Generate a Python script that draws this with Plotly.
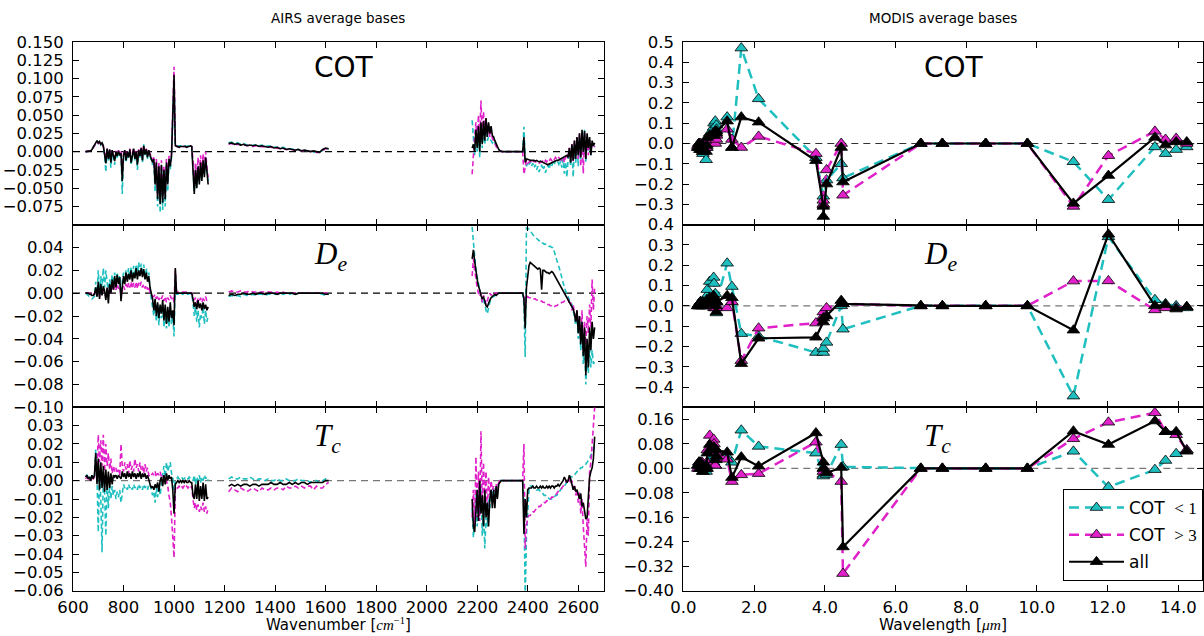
import plotly.graph_objects as go

W, H = 1204, 636

# ---------------- AIRS spectra (values in units of 1e-3) ----------------
wn_a = list(range(650, 1140, 5))
wn_b = list(range(1216, 1613, 12))
wn_c = list(range(2180, 2670, 5))

cot_all_a = [0,0,0,0,1,3,6,10, 13,15,12,14,10,12,8, -3,-16,4,-10,3,-15,2,-8,-13,0,-6,1,-5,-2,
             -40,-5,2,-12,0,-8,3,-15,-2,4,-10,0,-18,2,-6,5,-12,8,-4,3,-8,2, -5,-10,-15,
             -10,-45,-15,-65,-20,-72,-18,-70,-25,-65,-15,-45,-10,-20,-5, 40,105,8,
             7,7,6,7,7,8,7,7,6,7,7,8,7, -20,-58,-25,-50,-20,-45,-15,-40,-12,-35,-8,-30,-45]
cot_cyan_a = [0,0,0,0,1,3,6,9, 12,14,11,13,9,11,6, -5,-28,3,-12,2,-22,0,-10,-18,-2,-8,0,-7,-3,
              -58,-8,0,-15,-2,-10,2,-18,-4,3,-12,-2,-25,0,-8,4,-15,10,-6,2,-10,0, -6,-12,-18,
              -12,-55,-18,-75,-22,-84,-20,-80,-28,-75,-18,-55,-12,-25,-8, 35,95,8,
              8,8,7,8,8,9,8,8,7,8,8,9,8, -22,-55,-25,-48,-22,-42,-18,-38,-14,-32,-10,-28,-40]
cot_pink_a = [0,0,0,0,1,3,5,8, 12,13,11,12,9,10,7, -2,-10,4,-6,3,-10,2,-5,-9,1,-4,2,-3,0,
              -30,-3,3,-8,1,-5,4,-10,0,5,-7,2,-12,3,-4,6,-8,8,-2,4,-5,3, -3,-7,-10,
              -8,-40,-10,-60,-15,-66,-12,-62,-20,-58,-10,-40,-6,-15,-3, 45,116,12,
              7,7,6,7,7,8,7,7,6,7,7,8,7, -12,-45,-15,-40,-8,-35,-5,-30,-3,-25,0,-22,-35]
cot_all_b = [11,12,10,11,9,10,8,9,8,9,7,8,7,6,7,5,6,4,5,3,4,3,2,3,1,2,1,0,1,0,-1,3,5,4]
cot_cyan_b = [12,13,11,12,10,11,9,10,8,10,8,9,7,7,8,6,6,5,6,4,4,3,3,3,1,2,1,0,0,-1,-1,2,4,3]
cot_pink_b = [10,11,9,10,9,9,8,8,7,8,7,7,6,6,6,5,5,4,4,3,3,2,2,2,1,1,0,0,0,-1,-1,2,4,3]
cot_all_c = [5,10, 0,30,5,35,0,40,10,42,15,46,20,40,25,35,22, 20,15,10,6,3,1,0,
             0,0,0,0,0,0,0,0,0,0,0,0,0,0,0,0, 0,20,-15,-10,
             -10,-11,-12,-12,-11,-12,-13,-12,-13,-14,-13,-14,-15,-15,-16,-17,-18,-17,-16,-15,
             -14,-13,-13,-12,-12,-11,-10,-9,-8,-7,-6,-5,
             -8,5,-15,10,-12,15,-10,20,-5,25,-8,30,0,28,-10,25,5,20,-5,15,8,12]
cot_cyan_c = [43,20, -5,25,0,30,-8,35,5,38,10,30,15,20,18,15,12, 15,12,8,5,3,1,0,
              0,0,0,0,0,0,0,0,0,0,0,0,0,0,0,0, 0,34,-10,-20,
              -15,-18,-14,-20,-16,-22,-18,-25,-20,-28,-22,-18,-25,-20,-29,-22,-18,-24,-16,-20,
              -14,-18,-12,-16,-14,-20,-12,-22,-10,-30,-14,-35,
              -10,0,-20,5,-35,10,-15,15,-20,20,-10,25,-5,30,-15,20,0,15,-5,10,5,8]
cot_pink_c = [-31,0, 20,40,10,50,15,70,20,55,25,45,25,35,20,28,18, 15,10,7,4,2,1,0,
              0,0,0,0,0,0,0,0,0,0,0,0,0,0,0,0, 0,-31,-20,-12,
              -16,-14,-13,-15,-12,-14,-13,-15,-14,-16,-15,-14,-13,-15,-12,-14,-11,-13,-10,-12,
              -9,-11,-8,-10,-7,-9,-10,-12,-8,-15,-6,-10,
              -5,5,-10,10,-15,15,-5,20,-10,25,-20,20,-30,25,-10,20,-5,15,0,10,5,8]

de_all_a = [0,0,0,-1,-1,-2,-2,-1, 5,-3,10,-5,8,-2,6, 2,-6,5,-9,8,0,12,3,15,5,16,8,14,-7,
            5,15,8,18,10,17,12,20,10,18,13,22,12,20,15,22,14,21,12,18,10,15, 5,0,-5,
            -15,-5,-20,-8,-22,-10,-18,-6,-24,-10,-27,-12,-25,-8,-22, -15,-28,22,
            0,0,0,0,0,0,0,0,0,0,0,0,0, -5,-12,-8,-14,-6,-13,-9,-15,-8,-14,-10,-15,-12]
de_cyan_a = [0,-1,-2,-3,-4,-5,-4,-3, 10,-3,20,-2,15,5,22, 5,20,8,0,12,5,16,8,18,10,17,12,16,-3,
             10,18,12,20,14,22,15,23,14,24,16,25,15,27,18,26,16,25,14,22,12,18, 3,-5,-10,
             -20,-8,-25,-10,-28,-12,-22,-10,-30,-15,-31,-18,-30,-12,-28, -20,-38,15,
             -1,-1,0,-1,0,-1,0,-1,0,-1,0,-1,-1, -8,-20,-12,-25,-15,-30,-18,-22,-12,-27,-15,-25,-20]
de_pink_a = [0,0,0,0,0,-1,-1,0, 2,-2,5,-3,4,0,3, 0,-3,2,-2,5,0,6,2,7,3,8,4,6,-2,
             2,6,3,8,4,9,5,10,4,9,5,10,4,9,6,10,5,8,4,7,3,6, 0,-2,-3,
             -3,-1,-5,-2,-6,-3,-5,-2,-7,-3,-8,-4,-6,-2,-5, -3,-8,20,
             1,1,1,1,1,1,1,1,1,1,1,0,0, -3,-6,-4,-8,-5,-7,-4,-8,-5,-6,-3,-7,-5]
de_all_b = [-2,-1,-2,-1,-1,0,-1,-1,0,-1,0,0,-1,0,0,0,-1,0,0,0,0,0,-1,0,0,0,0,0,0,0,0,0,-1,-1]
de_cyan_b = [-3,-2,-3,-2,-3,-1,-2,-2,-1,-2,-1,-1,-2,-1,-1,-1,-1,0,-1,0,-1,0,-1,0,0,0,0,0,0,0,0,-1,-2,-1]
de_pink_b = [1,2,1,1,2,1,1,2,1,1,1,1,1,1,1,0,1,0,1,0,0,0,0,0,0,0,0,0,0,0,0,0,0,0]
de_all_c = [30,38, 28,18,12,6,3,-2,-5,-3,-8,-11,-12,-8,-6,-4,-3, -2,-1,-2,-1,0,0,0,
            0,0,0,0,0,0,0,0,0,0,0,0,0,0,0,0, 0,-5,-31,5,
            15,24,27,26,25,24,23,22,21,22,21,3,20,20,19,18,18,17,18,19,18,16,14,12,10,8,5,3,1,-1,-3,-4,
            -6,-8,-10,-12,-14,-18,-25,-15,-35,-20,-45,-25,-55,-30,-72,-40,-65,-30,-50,-25,-40,-30]
de_cyan_c = [58,45, 32,20,14,8,4,-2,-8,-5,-12,-15,-18,-12,-8,-5,-3, -3,-2,-1,-1,0,0,0,
             0,0,0,0,0,0,0,0,0,0,0,0,0,0,0,0, 0,-10,-56,57,
             57,56,55,53,51,50,49,48,47,46,46,44,44,43,43,42,42,41,41,40,40,37,33,29,26,22,18,13,9,5,2,0,
             -3,-6,-8,-10,-15,-20,-28,-18,-40,-25,-50,-30,-62,-40,-80,-55,-70,-45,-65,-50,-62,-60]
de_pink_c = [15,30, 20,10,5,0,-3,0,-8,-2,-5,-10,-5,-3,0,-2,0, -1,0,0,0,0,0,0,
             0,0,0,0,0,0,0,0,0,0,0,0,0,0,0,0, 0,-3,-10,-5,
             -3,-4,-4,-5,-5,-5,-5,-6,-6,-6,-7,-7,-8,-8,-9,-9,-10,-10,-11,-11,-12,-12,-11,-11,-10,-10,-9,-8,-8,-7,-6,-5,
             -5,-10,-8,-15,-10,-20,-25,-15,-30,-20,-40,-15,-50,-25,-45,-20,-35,-10,-30,12,-15,5]

tc_all_a = [2,3,1,2,0,3,1,3, 15,-2,12,-5,10,-4,8, -6,6,-5,5,-4,4,-2,3,2,3,1,3,2,1,
            5,2,4,1,5,2,4,1,5,2,4,1,4,2,5,1,4,2,4,1,3,0, -2,-4,-3,
            -5,-2,-4,-1,-6,0,2,-3,3,-2,4,0,3,1,2, -5,-18,-2,
            -1,0,-1,0,-1,0,-1,0,-1,-1,0,-1,-1, -8,-10,-2,-10,0,-11,-3,-10,-1,-11,-2,-10,-9]
tc_cyan_a = [2,3,2,3,1,3,2,3, 17,2,-28,5,-10,-39,3, -5,-30,0,-15,-2,-10,-3,-8,-5,-10,-6,-9,-5,-12,
             -5,-2,-4,-3,-5,-2,-4,-3,-5,-2,-4,-3,-5,-2,-4,-3,-5,-2,-4,-3,-5,-2, -2,-5,-8,
             -6,-12,-4,-9,-3,-8,-2,3,8,2,10,5,8,10,4, 2,-5,0,
             1,2,1,1,2,1,1,2,1,1,2,1,1, 0,3,-2,2,0,3,-1,2,0,3,1,2,0]
tc_pink_a = [1,2,1,2,0,2,1,2, 10,5,25,10,22,8,25, 5,20,8,15,6,12,4,8,5,7,4,6,3,20,
             8,5,10,6,9,4,11,6,8,5,12,7,9,5,10,6,8,4,9,5,7,3, 2,3,4,
             3,5,2,4,3,5,2,3,1,2,0,-3,-8,-12,-20, -30,-42,-5,
             -3,-4,-3,-4,-3,-4,-3,-4,-3,-4,-3,-4,-3, -10,-15,-12,-16,-13,-17,-14,-16,-12,-17,-14,-18,-15]
tc_all_b = [-3,-2,-3,-2,-3,-2,-2,-3,-2,-2,-3,-2,-2,-2,-1,-2,-2,-1,-2,-2,-1,-2,-1,-2,-1,-1,-2,-1,-1,-1,-1,-1,0,0]
tc_cyan_b = [1,2,1,1,2,1,1,2,1,0,1,1,0,1,0,0,1,0,0,1,0,0,0,1,0,0,0,-1,0,0,-1,0,1,0]
tc_pink_b = [-6,-4,-5,-6,-4,-5,-6,-5,-4,-5,-6,-4,-5,-5,-4,-5,-4,-4,-5,-3,-4,-4,-3,-4,-3,-4,-3,-3,-5,-3,-4,-4,-2,-1]
tc_all_c = [-10,-25, -28,-15,-5,-22,0,-18,-8,-25,-5,-20,-12,-25,-10,-5,-15, -5,-15,-3,-10,-2,-1,0,
            0,0,0,0,0,0,0,0,0,0,0,0,0,0,0,0, 0,-29,-10,-20,
            -5,-4,-4,-4,-3,-4,-4,-3,-4,-4,-3,-4,-3,-4,-4,-3,-4,-3,-4,-3,-3,-4,-3,-3,-2,-3,-2,-1,0,2,0,-1,
            0,3,1,-2,-5,-3,-6,-5,-8,-10,-7,-14,-12,-16,-21,-20,-8,2,5,7,12,24]
tc_cyan_c = [-15,-31, -20,-5,-25,-10,-18,-2,-30,-12,-37,-20,-25,-10,-15,-5,-8, -4,-12,-3,-8,-1,0,0,
             0,0,0,0,0,0,0,0,0,0,0,0,0,0,0,0, 0,-10,-65,-30,
             -15,-5,-3,-3,-3,-4,-4,-5,-5,-5,-6,-6,-7,-8,-8,-9,-9,-10,-10,-10,-10,-9,-8,-8,-7,-6,-5,-4,-4,-3,-2,-1,
             0,1,2,2,3,3,4,5,5,6,7,7,8,8,9,10,11,12,14,15,17,20]
tc_pink_c = [-20,-5, -25,13,-20,5,-22,27,-15,10,-10,5,-18,2,-8,0,-5, -3,-6,-2,-4,-1,0,0,
             0,0,0,0,0,0,0,0,0,0,0,0,0,0,0,0, 0,20,-37,-25,
             -20,-19,-19,-18,-17,-17,-16,-15,-15,-14,-14,-13,-13,-12,-12,-11,-11,-10,-10,-9,-9,-8,-8,-7,-6,-5,-5,-4,-3,-2,-1,0,
             0,2,-2,0,-4,-2,-8,-5,-12,-6,-18,-10,-25,-35,-47,-20,-30,5,10,20,30,40]

# ---------------- MODIS bands ----------------
wl = [0.412, 0.443, 0.469, 0.488, 0.531, 0.551, 0.555, 0.645, 0.667, 0.678, 0.748, 0.858,
      0.869, 0.905, 0.936, 0.940, 1.240, 1.375, 1.640, 2.130, 3.750, 3.959, 3.959, 4.050,
      4.465, 4.515, 6.715, 7.325, 8.550, 9.730, 11.030, 12.020, 13.335, 13.635, 13.935, 14.235]

cot_m_all = [-0.02, 0.00, -0.01, -0.03, -0.005, -0.03, -0.04, -0.04, -0.01, 0.03, 0.04, 0.05,
             0.04, 0.06, 0.05, 0.06, 0.11, -0.02, 0.13, 0.105, -0.085, -0.31, -0.36, -0.20,
             -0.02, -0.19, 0.0, 0.0, 0.0, 0.0, -0.295, -0.158, 0.03, -0.008, 0.008, 0.008]
cot_m_cyan = [-0.02, -0.01, -0.03, -0.02, -0.03, -0.04, -0.05, -0.08, -0.02, 0.02, 0.05, 0.08,
              0.10, 0.11, 0.09, 0.07, 0.13, -0.02, 0.47, 0.22, -0.07, -0.26, -0.30, -0.18,
              -0.10, -0.17, 0.0, 0.0, 0.0, 0.0, -0.09, -0.277, -0.017, -0.05, -0.03, -0.017]
cot_m_pink = [-0.01, 0.0, -0.02, 0.0, -0.01, -0.02, -0.03, -0.02, 0.0, 0.02, 0.03, 0.04,
              0.03, 0.0, 0.02, 0.04, 0.07, 0.02, -0.02, 0.035, -0.05, -0.30, -0.28, -0.13,
              0.0, -0.255, 0.0, 0.0, 0.0, 0.0, -0.31, -0.06, 0.06, 0.02, 0.025, 0.0]

de_m_all = [0.0, 0.01, 0.0, 0.02, 0.01, 0.02, 0.0, 0.01, 0.03, 0.02, 0.04, 0.05,
            0.03, 0.0, -0.03, 0.02, 0.05, 0.04, -0.285, -0.16, -0.155, -0.08, -0.06, -0.05,
            0.026, 0.01, 0.0, 0.0, 0.0, 0.0, -0.12, 0.353, 0.0, 0.005, -0.016, -0.005]
de_m_cyan = [0.0, 0.01, 0.0, 0.02, 0.0, 0.01, 0.0, 0.02, 0.05, 0.08, 0.12, 0.14,
             0.11, 0.06, -0.035, 0.02, 0.21, 0.095, -0.137, -0.15, -0.23, -0.23, -0.21, -0.18,
             0.0, -0.115, 0.0, 0.0, 0.0, 0.0, -0.445, 0.34, 0.03, 0.01, 0.0, -0.01]
de_m_pink = [0.0, 0.0, 0.0, 0.01, 0.0, 0.01, 0.0, 0.0, 0.01, 0.0, 0.02, 0.0,
             -0.01, -0.01, 0.0, -0.01, -0.01, 0.02, -0.27, -0.11, -0.085, -0.05, -0.03, -0.01,
             0.01, 0.01, 0.0, 0.0, 0.0, 0.0, 0.122, 0.123, -0.02, -0.01, -0.01, -0.005]

tc_m_all = [0.01, 0.02, 0.0, 0.02, 0.01, 0.0, -0.01, 0.01, 0.0, 0.05, 0.078, 0.065,
            0.07, 0.028, 0.04, 0.06, 0.053, -0.03, 0.037, 0.007, 0.116, 0.02, 0.0, -0.015,
            0.003, -0.257, 0.0, 0.0, 0.0, 0.0, 0.122, 0.078, 0.155, 0.12, 0.12, 0.056]
tc_m_cyan = [0.01, 0.0, 0.02, 0.0, 0.01, -0.01, 0.0, -0.01, 0.0, 0.01, 0.03, 0.02,
             0.04, 0.01, 0.05, 0.03, 0.04, 0.02, 0.125, 0.072, 0.05, -0.02, -0.025, -0.02,
             0.078, 0.005, 0.0, 0.0, 0.0, 0.0, 0.056, -0.061, -0.004, 0.026, 0.048, 0.06]
tc_m_pink = [0.0, 0.02, 0.01, 0.0, 0.02, 0.0, 0.01, 0.0, 0.02, 0.06, 0.108, 0.095,
             0.08, 0.01, 0.03, 0.05, 0.03, -0.043, -0.021, -0.017, 0.086, 0.0, -0.01, -0.01,
             -0.043, -0.344, 0.0, 0.0, 0.0, 0.0, 0.097, 0.151, 0.182, 0.12, 0.11, 0.06]

# ---------------- tick labels ----------------
airs_xticks = [600, 800, 1000, 1200, 1400, 1600, 1800, 2000, 2200, 2400, 2600]
airs_xtext = ["600", "800", "1000", "1200", "1400", "1600", "1800", "2000", "2200", "2400", "2600"]
modis_xticks = [0, 2, 4, 6, 8, 10, 12, 14]
modis_xtext = ["0.0", "2.0", "4.0", "6.0", "8.0", "10.0", "12.0", "14.0"]
M = "\u2212"
y_ticks = [
    ([0.15, 0.125, 0.1, 0.075, 0.05, 0.025, 0.0, -0.025, -0.05, -0.075],
     ["0.150", "0.125", "0.100", "0.075", "0.050", "0.025", "0.000", M+"0.025", M+"0.050", M+"0.075"]),
    ([0.04, 0.02, 0.0, -0.02, -0.04, -0.06, -0.08, -0.10],
     ["0.04", "0.02", "0.00", M+"0.02", M+"0.04", M+"0.06", M+"0.08", M+"0.10"]),
    ([0.03, 0.02, 0.01, 0.0, -0.01, -0.02, -0.03, -0.04, -0.05, -0.06],
     ["0.03", "0.02", "0.01", "0.00", M+"0.01", M+"0.02", M+"0.03", M+"0.04", M+"0.05", M+"0.06"]),
    ([0.5, 0.4, 0.3, 0.2, 0.1, 0.0, -0.1, -0.2, -0.3],
     ["0.5", "0.4", "0.3", "0.2", "0.1", "0.0", M+"0.1", M+"0.2", M+"0.3"]),
    ([0.4, 0.3, 0.2, 0.1, 0.0, -0.1, -0.2, -0.3, -0.4],
     ["0.4", "0.3", "0.2", "0.1", "0.0", M+"0.1", M+"0.2", M+"0.3", M+"0.4"]),
    ([0.16, 0.08, 0.0, -0.08, -0.16, -0.24, -0.32, -0.40],
     ["0.16", "0.08", "0.00", M+"0.08", M+"0.16", M+"0.24", M+"0.32", M+"0.40"]),
]
y_ranges = [[-0.1, 0.15], [-0.1, 0.06], [-0.06, 0.04], [-0.4, 0.5], [-0.5, 0.4], [-0.4, 0.2]]

CYAN = "#1fbfbf"
PINK = "#e020c8"

def airs(a, b, c):
    for seg, xs in ((a, wn_a), (b, wn_b), (c, wn_c)):
        if len(seg) != len(xs):
            raise ValueError(f"length mismatch {len(seg)} vs {len(xs)}")
    x = wn_a + [None] + wn_b + [None] + wn_c
    y = [v / 1000 for v in a] + [None] + [v / 1000 for v in b] + [None] + [v / 1000 for v in c]
    return x, y

for arr in (cot_m_all, cot_m_cyan, cot_m_pink, de_m_all, de_m_cyan, de_m_pink, tc_m_all, tc_m_cyan, tc_m_pink):
    if len(arr) != len(wl):
        raise ValueError("modis length mismatch")

fig = go.Figure()

airs_sets = [
    (cot_cyan_a, cot_cyan_b, cot_cyan_c, cot_pink_a, cot_pink_b, cot_pink_c, cot_all_a, cot_all_b, cot_all_c),
    (de_cyan_a, de_cyan_b, de_cyan_c, de_pink_a, de_pink_b, de_pink_c, de_all_a, de_all_b, de_all_c),
    (tc_cyan_a, tc_cyan_b, tc_cyan_c, tc_pink_a, tc_pink_b, tc_pink_c, tc_all_a, tc_all_b, tc_all_c),
]
modis_sets = [
    (cot_m_cyan, cot_m_pink, cot_m_all),
    (de_m_cyan, de_m_pink, de_m_all),
    (tc_m_cyan, tc_m_pink, tc_m_all),
]

def ax(n, kind):
    return kind if n == 1 else f"{kind}{n}"

for r in range(3):
    n = r + 1
    s = airs_sets[r]
    x, y = airs(s[0], s[1], s[2])
    fig.add_trace(go.Scatter(x=x, y=y, mode="lines", line=dict(color=CYAN, width=1.6, dash="5px,3px"),
                             xaxis=ax(n, "x"), yaxis=ax(n, "y"), showlegend=False))
    x, y = airs(s[3], s[4], s[5])
    fig.add_trace(go.Scatter(x=x, y=y, mode="lines", line=dict(color=PINK, width=1.6, dash="5px,3px"),
                             xaxis=ax(n, "x"), yaxis=ax(n, "y"), showlegend=False))
    x, y = airs(s[6], s[7], s[8])
    fig.add_trace(go.Scatter(x=x, y=y, mode="lines", line=dict(color="black", width=1.6),
                             xaxis=ax(n, "x"), yaxis=ax(n, "y"), showlegend=False))

SERIF = "Liberation Serif"
names = [f"COT <span style=\"font-family:'{SERIF}'\"> &lt; 1</span>",
         f"COT <span style=\"font-family:'{SERIF}'\"> &gt; 3</span>",
         "all"]
for r in range(3):
    n = r + 4
    cy, pk, al = modis_sets[r]
    for k, (vals, col, dash, name) in enumerate(((cy, CYAN, "10px,6px", names[0]), (pk, PINK, "10px,6px", names[1]),
                                                 (al, "black", "solid", names[2]))):
        fig.add_trace(go.Scatter(
            x=wl, y=vals, mode="lines+markers", name=name, legendgroup=f"g{k}",
            line=dict(color=col, width=2.5 if col != "black" else 2.2, dash=dash),
            marker=dict(symbol="triangle-up", size=11, color=col, line=dict(color="black", width=0.8)),
            xaxis=ax(n, "x"), yaxis=ax(n, "y"), showlegend=(r == 2)))

tops = [42, 224.7, 407.3]
bots = [224.7, 407.3, 590.7]
xdom_l = [73 / W, 603.5 / W]
xdom_r = [683.3 / W, 1203.2 / W]

axis_base = dict(showline=True, linecolor="black", linewidth=1, mirror="ticks", ticks="inside",
                 ticklen=6, tickwidth=1, tickcolor="black", showgrid=False, zeroline=False,
                 automargin=False,
                 tickfont=dict(family="DejaVu Sans", size=16.5, color="black"))

layout = {}
for p in range(6):
    n = p + 1
    r = p % 3
    left = p < 3
    xa = dict(axis_base)
    xa.update(domain=xdom_l if left else xdom_r, anchor=ax(n, "y"),
              range=[600, 2700] if left else [0, 14.7],
              tickmode="array",
              tickvals=airs_xticks if left else modis_xticks,
              ticktext=airs_xtext if left else modis_xtext,
              showticklabels=(r == 2), ticklabelstandoff=1)
    ya = dict(axis_base)
    ya.update(domain=[1 - bots[r] / H, 1 - tops[r] / H], anchor=ax(n, "x"), range=y_ranges[p],
              tickmode="array", tickvals=y_ticks[p][0], ticktext=y_ticks[p][1], ticklabelstandoff=5)
    layout["xaxis" if n == 1 else f"xaxis{n}"] = xa
    layout["yaxis" if n == 1 else f"yaxis{n}"] = ya

fig.update_layout(**layout)

zero_cols = ["black", "black", "#777777", "#333333", "#777777", "#777777"]
shapes = []
for p in range(6):
    n = p + 1
    shapes.append(dict(type="line", xref=f"{ax(n, 'x')} domain", x0=0, x1=1, yref=ax(n, "y"), y0=0, y1=0,
                       line=dict(color=zero_cols[p], width=1.2, dash="7px,5px"), layer="below"))

ann = []
def txt(x, y, text, size, family="DejaVu Sans", xanchor="center", yanchor="middle"):
    ann.append(dict(x=x / W, y=1 - y / H, xref="paper", yref="paper", text=text, showarrow=False,
                    xanchor=xanchor, yanchor=yanchor, font=dict(family=family, size=size, color="black")))

txt(338, 18, "AIRS average bases", 13.5)
txt(943, 18, "MODIS average bases", 13.5)
txt(338, 636, f"Wavenumber [<span style=\"font-family:'{SERIF}'\"><i>cm</i><sup>{M}1</sup></span>]", 15,
    yanchor="bottom")
txt(943, 636, f"Wavelength [<span style=\"font-family:'{SERIF}'\"><i>μm</i></span>]", 15.5, yanchor="bottom")
for xl in (312, 922):
    txt(xl, 68, "COT", 28, xanchor="left")
    txt(xl, 256, "<i>D</i><sub><i>e</i></sub>", 31, family=SERIF, xanchor="left")
    txt(xl, 438, "<i>T</i><sub><i>c</i></sub>", 31, family=SERIF, xanchor="left")

fig.update_layout(
    width=W, height=H, margin=dict(l=0, r=0, t=0, b=0, autoexpand=False),
    paper_bgcolor="white", plot_bgcolor="white",
    shapes=shapes, annotations=ann,
    legend=dict(x=1203 / W, xanchor="right", y=1 - 581 / H, yanchor="bottom", bgcolor="white",
                bordercolor="black", borderwidth=1, itemwidth=55, tracegroupgap=2,
                font=dict(family="DejaVu Sans", size=17, color="black")),
)

fig.write_html("out.html")
